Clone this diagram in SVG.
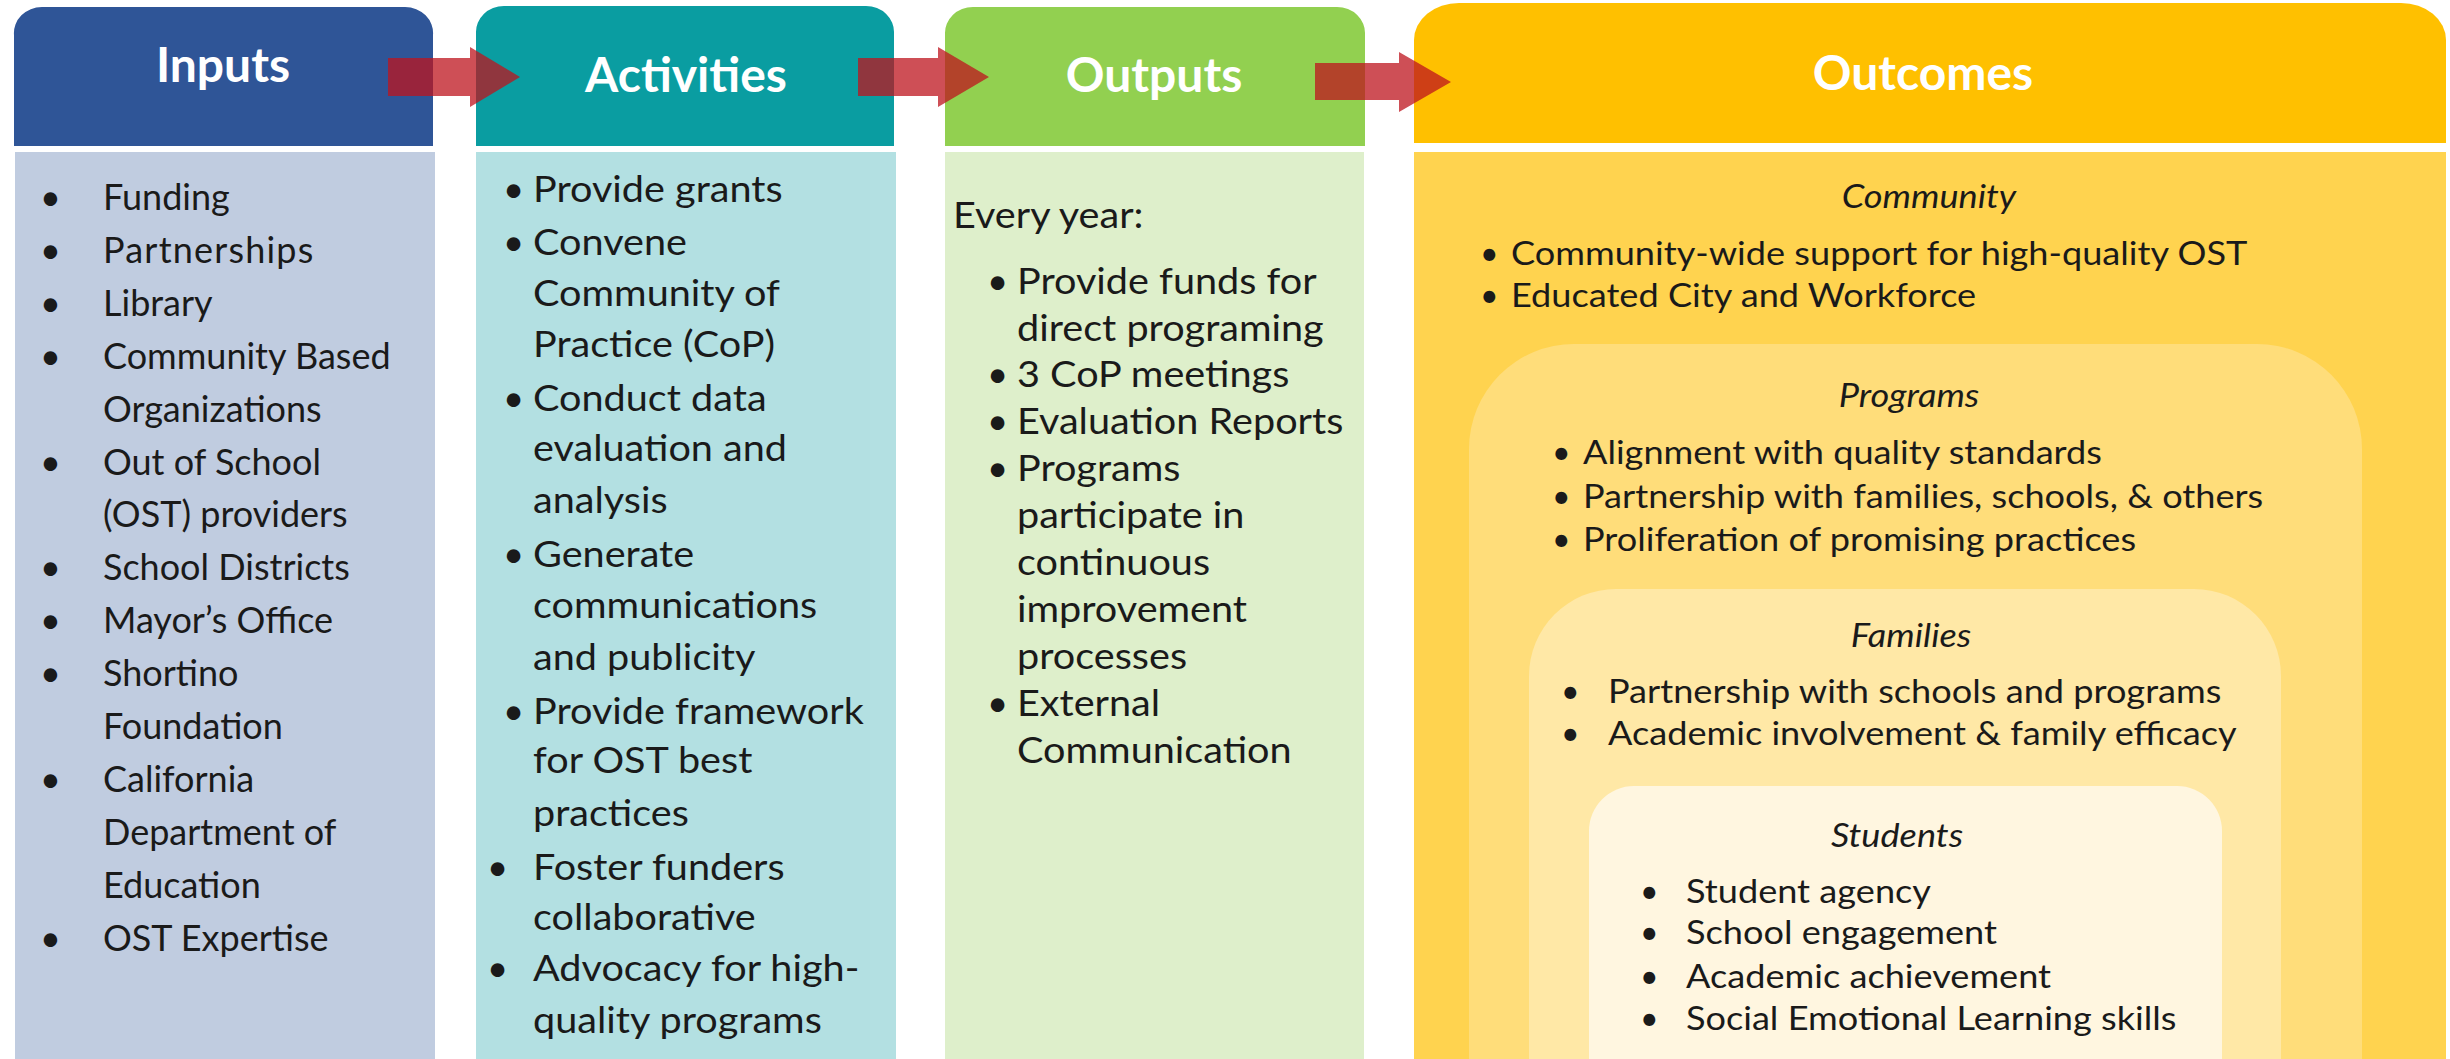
<svg xmlns="http://www.w3.org/2000/svg" width="2450" height="1059" viewBox="0 0 2450 1059">
<style>
.hdr{font-family:Lato,'Liberation Sans',sans-serif;font-weight:700;font-size:48px;fill:#ffffff;text-anchor:middle}
.b{font-family:Lato,'Liberation Sans',sans-serif;font-size:36px;fill:#1a1a1a}
.b2{font-family:Lato,'Liberation Sans',sans-serif;font-size:36.5px;fill:#1a1a1a}
.o{font-family:Lato,'Liberation Sans',sans-serif;font-size:32px;fill:#1a1a1a}
.t{font-family:Lato,'Liberation Sans',sans-serif;font-size:32px;font-style:italic;fill:#1a1a1a;text-anchor:middle}
.arrow{fill:rgb(190,20,30);fill-opacity:0.75}
</style>
<rect x="0" y="0" width="2450" height="1059" fill="#ffffff"/>

<g id="inputs">
<path d="M14,146 V35 A28,26 0 0 1 42,7 H405 A28,26 0 0 1 433,35 V146 Z" fill="#2F5597"/>
<rect x="15" y="152" width="420" height="907" fill="#C0CCE0"/>
<text class="hdr" x="223" y="82">Inputs</text>
<g class="b">
<text x="40" y="210">•</text><text x="103" y="210">Funding</text>
<text x="40" y="263">•</text><text x="103" y="263" letter-spacing="1.2">Partnerships</text>
<text x="40" y="316">•</text><text x="103" y="316">Library</text>
<text x="40" y="369">•</text><text x="103" y="369">Community Based</text>
<text x="103" y="422">Organizations</text>
<text x="40" y="475">•</text><text x="103" y="475">Out of School</text>
<text x="103" y="527">(OST) providers</text>
<text x="40" y="580">•</text><text x="103" y="580">School Districts</text>
<text x="40" y="633">•</text><text x="103" y="633">Mayor’s Office</text>
<text x="40" y="686">•</text><text x="103" y="686">Shortino</text>
<text x="103" y="739">Foundation</text>
<text x="40" y="792">•</text><text x="103" y="792">California</text>
<text x="103" y="845">Department of</text>
<text x="103" y="898">Education</text>
<text x="40" y="951">•</text><text x="103" y="951">OST Expertise</text>
</g>
</g>

<g id="activities">
<path d="M476,146 V33 A28,26 0 0 1 504,6 H866 A28,26 0 0 1 894,33 V146 Z" fill="#0A9DA1"/>
<rect x="476" y="152" width="420" height="907" fill="#B3E0E2"/>
<text class="hdr" x="686" y="92">Activities</text>
<g class="b2">
<text x="503" y="202">•</text>
<text x="503" y="255">•</text>
<text x="503" y="411">•</text>
<text x="503" y="567">•</text>
<text x="503" y="724">•</text>
<text x="487" y="880">•</text>
<text x="487" y="981">•</text>
</g>
<g class="b2" transform="matrix(1.085 0 0 1 -45.305 0)">
<text x="533" y="202">Provide grants</text>
<text x="533" y="255">Convene</text>
<text x="533" y="306">Community of</text>
<text x="533" y="357">Practice (CoP)</text>
<text x="533" y="411">Conduct data</text>
<text x="533" y="461">evaluation and</text>
<text x="533" y="513">analysis</text>
<text x="533" y="567">Generate</text>
<text x="533" y="618">communications</text>
<text x="533" y="670">and publicity</text>
<text x="533" y="724">Provide framework</text>
<text x="533" y="773">for OST best</text>
<text x="533" y="826">practices</text>
<text x="533" y="880">Foster funders</text>
<text x="533" y="930">collaborative</text>
<text x="533" y="981">Advocacy for high-</text>
<text x="533" y="1033">quality programs</text>
</g>
</g>

<g id="outputs">
<path d="M945,146 V34 A28,26 0 0 1 973,7 H1337 A28,26 0 0 1 1365,34 V146 Z" fill="#92D050"/>
<rect x="945" y="152" width="419" height="907" fill="#DEEFCB"/>
<text class="hdr" x="1154" y="92">Outputs</text>
<text class="b2" x="953" y="228" transform="matrix(1.085 0 0 1 -81.005 0)">Every year:</text>
<g class="b2">
<text x="987" y="294">•</text>
<text x="987" y="387">•</text>
<text x="987" y="434">•</text>
<text x="987" y="481">•</text>
<text x="987" y="716">•</text>
</g>
<g class="b2" transform="matrix(1.085 0 0 1 -86.445 0)">
<text x="1017" y="294">Provide funds for</text>
<text x="1017" y="341">direct programing</text>
<text x="1017" y="387">3 CoP meetings</text>
<text x="1017" y="434">Evaluation Reports</text>
<text x="1017" y="481">Programs</text>
<text x="1017" y="528">participate in</text>
<text x="1017" y="575">continuous</text>
<text x="1017" y="622">improvement</text>
<text x="1017" y="669">processes</text>
<text x="1017" y="716">External</text>
<text x="1017" y="763">Communication</text>
</g>
</g>

<g id="outcomes">
<path d="M1414,143 V40 A45,37 0 0 1 1459,3 H2401 A45,37 0 0 1 2446,40 V143 Z" fill="#FFC000"/>
<rect x="1414" y="152" width="1032" height="907" fill="#FFD34F"/>
<text class="hdr" x="1923" y="90">Outcomes</text>
<g id="community">
<text class="t" x="1929" y="208" transform="matrix(1.13 0 0 1 -250.77 0)">Community</text>
<text class="o" x="1480" y="265">•</text>
<text class="o" x="1480" y="307">•</text>
<g class="o" transform="matrix(1.13 0 0 1 -196.43 0)">
<text x="1511" y="265">Community-wide support for high-quality OST</text>
<text x="1511" y="307">Educated City and Workforce</text>
</g>
</g>
<g id="programs">
<path d="M1469,1059 V449 A105,105 0 0 1 1574,344 H2257 A105,105 0 0 1 2362,449 V1059 Z" fill="#FFDD7A"/>
<text class="t" x="1909" y="407" transform="matrix(1.13 0 0 1 -248.17 0)">Programs</text>
<text class="o" x="1552" y="464">•</text>
<text class="o" x="1552" y="508">•</text>
<text class="o" x="1552" y="551">•</text>
<g class="o" transform="matrix(1.13 0 0 1 -205.79 0)">
<text x="1583" y="464">Alignment with quality standards</text>
<text x="1583" y="508">Partnership with families, schools, &amp; others</text>
<text x="1583" y="551">Proliferation of promising practices</text>
</g>
</g>
<g id="families">
<path d="M1529,1059 V676 A87,87 0 0 1 1616,589 H2194 A87,87 0 0 1 2281,676 V1059 Z" fill="#FFE8A6"/>
<text class="t" x="1911" y="647" transform="matrix(1.13 0 0 1 -248.43 0)">Families</text>
<text class="o" x="1561" y="703">•</text>
<text class="o" x="1561" y="745">•</text>
<g class="o" transform="matrix(1.13 0 0 1 -209.04 0)">
<text x="1608" y="703">Partnership with schools and programs</text>
<text x="1608" y="745">Academic involvement &amp; family efficacy</text>
</g>
</g>
<g id="students">
<path d="M1589,1059 V831 A45,45 0 0 1 1634,786 H2177 A45,45 0 0 1 2222,831 V1059 Z" fill="#FFF6E0"/>
<text class="t" x="1897" y="847" transform="matrix(1.13 0 0 1 -246.61 0)">Students</text>
<text class="o" x="1640" y="903">•</text>
<text class="o" x="1640" y="944">•</text>
<text class="o" x="1640" y="988">•</text>
<text class="o" x="1640" y="1030">•</text>
<g class="o" transform="matrix(1.13 0 0 1 -219.18 0)">
<text x="1686" y="903">Student agency</text>
<text x="1686" y="944">School engagement</text>
<text x="1686" y="988">Academic achievement</text>
<text x="1686" y="1030">Social Emotional Learning skills</text>
</g>
</g>
</g>

<g id="connectors">
<polygon class="arrow" points="388,58 470,58 470,47 520,77 470,107 470,96 388,96"/>
<polygon class="arrow" points="858,58 938,58 938,47 989,77 938,107 938,96 858,96"/>
<polygon class="arrow" points="1315,63 1399,63 1399,52 1451,82 1399,112 1399,100 1315,100"/>
</g>
</svg>
